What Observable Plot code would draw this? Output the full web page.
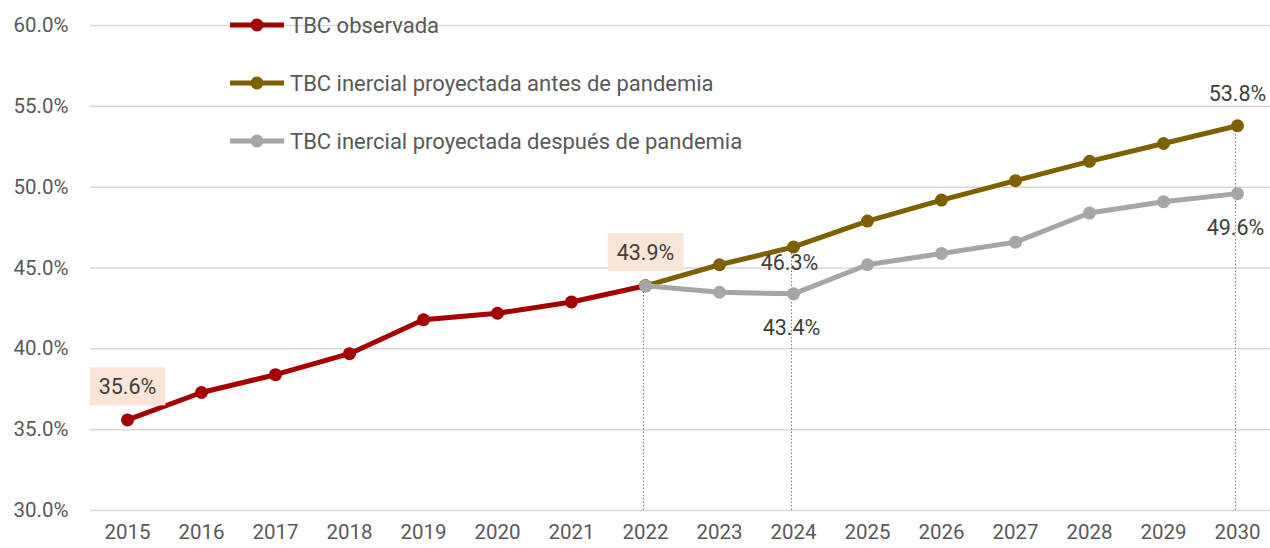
<!DOCTYPE html>
<html><head><meta charset="utf-8">
<script src="https://cdn.jsdelivr.net/npm/d3@7"></script>
<script src="https://cdn.jsdelivr.net/npm/@observablehq/plot@0.6"></script>
<style>
body{margin:0;background:#fff;}
#wrap{position:relative;width:1270px;height:548px;font-family:Roboto,sans-serif;}
#legend{position:absolute;left:228px;top:-4px;}
.lrow{display:flex;align-items:center;height:58px;font-size:22px;color:#595959;}
.lrow svg{margin-right:4px;}
</style></head><body><div id="wrap"><div id="legend"></div></div>
<script>
const years = [2015,2016,2017,2018,2019,2020,2021,2022,2023,2024,2025,2026,2027,2028,2029,2030];
const observedYears = [2015,2016,2017,2018,2019,2020,2021,2022];
const observed = [35.6,37.3,38.4,39.7,41.8,42.2,42.9,43.9];
const projYears = [2022,2023,2024,2025,2026,2027,2028,2029,2030];
const prePandemic = [43.9,45.2,46.3,47.9,49.2,50.4,51.6,52.7,53.8];
const postPandemic = [43.9,43.5,43.4,45.2,45.9,46.6,48.4,49.1,49.6];
const seriesNames = ["TBC observada","TBC inercial proyectada antes de pandemia","TBC inercial proyectada después de pandemia"];
const seriesColors = ["#A50000","#7F6000","#A6A6A6"];
const yTicks = [30,35,40,45,50,55,60];
const guideYears = [2022,2024,2030];
const guideValues = [43.9,46.3,53.8];
const hlYears = [2015,2022];
const hlValues = [35.6,43.9];
const aboveYears = [2030];
const aboveValues = [53.8];
const nearBelowYears = [2024];
const nearBelowValues = [46.3];
const belowYears = [2024,2030];
const belowValues = [43.4,49.6];

const zip = (xs, vs) => xs.map((x,i)=>({year:String(x), v:vs[i]}));
const obs = zip(observedYears, observed);
const pre = zip(projYears, prePandemic);
const post = zip(projYears, postPandemic);
const guides = zip(guideYears, guideValues);
const fmt = d => d.v.toFixed(1) + "%";
const hlTexts = hlValues.map(v => v.toFixed(1) + "%");

const fontFamily = "Roboto, sans-serif";
const chart = Plot.plot({
  width: 1270, height: 548,
  marginLeft: 90, marginRight: -4, marginTop: 25, marginBottom: 38,
  style: {fontFamily, fontSize: "20.5px", color: "#595959", background: "#fff"},
  x: {type: "point", domain: years.map(String), padding: 0.5, round: false, label: null, tickSize: 0, tickPadding: 14},
  y: {domain: [30, 60], ticks: yTicks, tickFormat: d => d.toFixed(1) + "%", label: null, tickSize: 0, tickPadding: 22},
  marks: [
    Plot.gridY(yTicks, {stroke: "#D9D9D9", strokeOpacity: 1, strokeWidth: 1.5}),
    Plot.ruleX(guides, {x: "year", y1: 30, y2: "v", dx: -2, stroke: "#7F7F7F", strokeWidth: 1, strokeDasharray: "1.5,2"}),
    Plot.line(obs, {x: "year", y: "v", stroke: seriesColors[0], strokeWidth: 5}),
    Plot.dot(obs, {x: "year", y: "v", fill: seriesColors[0], r: 6.5}),
    Plot.line(pre, {x: "year", y: "v", stroke: seriesColors[1], strokeWidth: 5}),
    Plot.dot(pre, {x: "year", y: "v", fill: seriesColors[1], r: 6.5}),
    Plot.line(post, {x: "year", y: "v", stroke: seriesColors[2], strokeWidth: 5}),
    Plot.dot(post, {x: "year", y: "v", fill: seriesColors[2], r: 6.5}),
    Plot.text(zip(hlYears, hlValues), {x: "year", y: "v", text: fmt, dy: -33, dx: 0, fill: "#404040", fontSize: 21.5}),
    Plot.text(zip(aboveYears, aboveValues), {x: "year", y: "v", text: fmt, dy: -32, fill: "#404040", fontSize: 21.5}),
    Plot.text(zip(nearBelowYears, nearBelowValues), {x: "year", y: "v", text: fmt, dy: 16, dx: -4, fill: "#404040", fontSize: 21.5}),
    Plot.text(zip(belowYears, belowValues), {x: "year", y: "v", text: fmt, dy: 34, dx: -2, fill: "#404040", fontSize: 21.5})
  ]
});
document.getElementById("wrap").prepend(chart);

// highlight boxes behind selected labels
const svgRoot = chart.tagName.toLowerCase() === "svg" ? chart : chart.querySelector("svg");
Array.from(svgRoot.querySelectorAll("text")).forEach(t => {
  if (!hlTexts.includes(t.textContent.trim())) return;
  const b = t.getBBox();
  const rect = document.createElementNS("http://www.w3.org/2000/svg", "rect");
  rect.setAttribute("x", b.x - 9);
  rect.setAttribute("y", b.y - 6.5);
  rect.setAttribute("width", b.width + 18);
  rect.setAttribute("height", b.height + 13);
  rect.setAttribute("fill", "#FBE5D6");
  const tr = t.getAttribute("transform");
  if (tr) rect.setAttribute("transform", tr);
  t.parentNode.insertBefore(rect, t);
});

// legend
const legend = d3.select("#legend");
seriesNames.forEach((name, i) => {
  const row = legend.append("div").attr("class", "lrow");
  const s = row.append("svg").attr("width", 58).attr("height", 14);
  s.append("line").attr("x1", 2).attr("x2", 56).attr("y1", 7).attr("y2", 7)
    .attr("stroke", seriesColors[i]).attr("stroke-width", 5);
  s.append("circle").attr("cx", 29).attr("cy", 7).attr("r", 6.5).attr("fill", seriesColors[i]);
  row.append("span").text(name);
});
</script>
</body></html>
